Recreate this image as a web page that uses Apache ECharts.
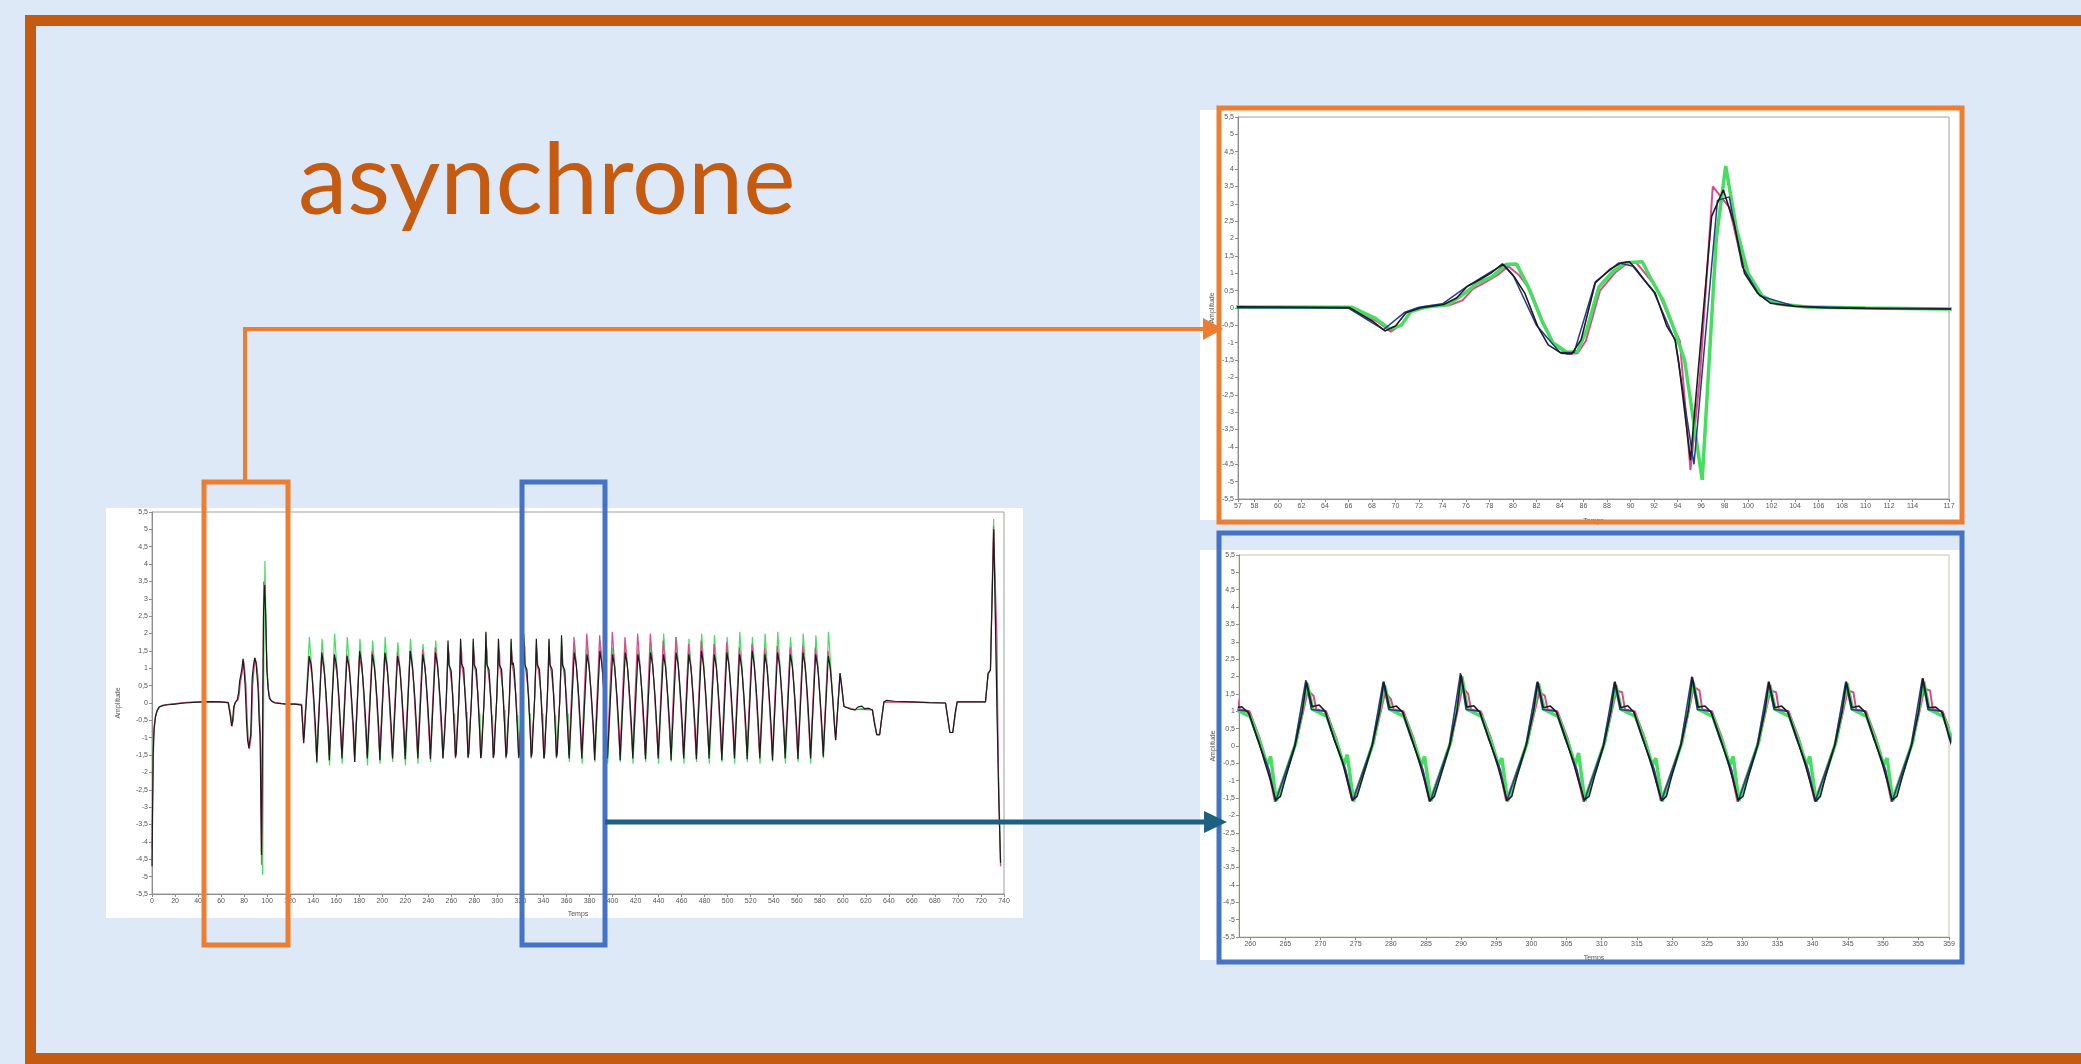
<!DOCTYPE html>
<html lang="fr">
<head>
<meta charset="UTF-8">
<title>asynchrone</title>
<script src="https://cdn.jsdelivr.net/npm/echarts@6.0.0/dist/echarts.min.js"></script>
<style>
  html, body { margin: 0; padding: 0; background: #dde9f6; }
  #main { width: 2081px; height: 1064px; }
</style>
</head>
<body>
<div id="main"></div>
<script type="text/javascript">
// ---- tick labels ----
var zoomAPeakTicks = [56.6, 58, 60, 62, 64, 66, 68, 70, 72, 74, 76, 78, 80, 82, 84, 86, 88, 90,
  92, 94, 96, 98, 100, 102, 104, 106, 108, 110, 112, 114, 117.1];
var zoomBTicks = [258.4, 260, 265, 270, 275, 280, 285, 290, 295, 300, 305, 310, 315, 320, 325,
  330, 335, 340, 345, 350, 355, 359.4];

// ---- black trace (temps, amplitude) ----
var blackStart = [[0,-4.7],[0.5,-3.2],[1,-1.5],[1.8,-0.75],[3,-0.4],[4.5,-0.22],[6,-0.12],[9,-0.07],[14,-0.05],[20,-0.03],
  [28,0],[36,0.02],[44,0.03],[52,0.04],[60,0.03],[66.1,0.01],[68.1,-0.39],[69.1,-0.66],[70,-0.52],[70.9,-0.14],[72.1,0],
  [74.1,0.1],[75.2,0.29],[76.1,0.62],[77.2,0.82],[78.1,1],[79.1,1.27],[80.1,0.9],[81,0.43],[82.1,-0.53],[83,-1.06],
  [84.1,-1.3],[85,-1.32],[85.8,-0.91],[87,0.72],[88.2,1.1],[89.2,1.3],[89.9,1.33],[90.4,1.15],[91.2,0.8],[92.1,0.43],
  [93.1,-0.53],[93.8,-0.91],[94.1,-1.55],[95.1,-4.38],[96.9,2.64],[97.9,3.4],[98.8,2.45],[99.7,1],[100.8,0.43],
  [101.9,0.14],[103.9,0.05],[106.8,0],[112,-0.02],[117,-0.03],[124,-0.03],[129.8,-0.06],[131.8,-1.16]];
var blackOscA = [[136.5,1.35],[138.3,1.1],[140.5,0.15],[142,-0.7],[143.1,-1.7],
  [147.5,1.45],[149.3,1.05],[151.5,0.1],[153,-0.7],[154,-1.65],
  [158.4,1.4],[160.2,1.1],[162.4,0.15],[163.9,-0.75],[165,-1.6],
  [169.4,1.35],[171.2,1.05],[173.4,0.1],[174.9,-0.7],[176,-1.7],
  [180.4,1.5],[182.2,1.1],[184.4,0.15],[185.9,-0.7],[187,-1.6],
  [191.4,1.4],[193.2,1.05],[195.4,0.12],[196.9,-0.72],[197.9,-1.65],
  [202.3,1.45],[204.1,1.1],[206.3,0.15],[207.8,-0.7],[208.9,-1.6],
  [213.3,1.35],[215.1,1.05],[217.3,0.1],[218.8,-0.7],[219.9,-1.62],
  [224.3,1.5],[226.1,1.1],[228.3,0.15],[229.8,-0.72],[230.9,-1.6],
  [235.2,1.4],[237,1.05],[239.2,0.12],[240.7,-0.7],[241.8,-1.62],
  [246.2,1.45],[248,1.1],[250.2,0.15],[251.7,-0.7],[252.7,-1.6]];
var blackOscZoom = [[254.1,-0.93],[255.5,0.03],[256.5,0.99],[257.1,1.8],[257.8,1.1],[258.8,1.13],[259.8,0.94],[261.2,0.12],[262.2,-0.55],[262.9,-1.0],[263.6,-1.56],
  [264.3,-1.45],[265,-0.93],[266.4,0.03],[267.4,0.99],[268,1.85],[268.8,1.13],[269.8,1.18],[270.7,0.99],[271.9,0.22],[273.1,-0.45],[273.8,-1.0],[274.5,-1.56],
  [275.2,-1.45],[276,-0.9],[277.4,0.05],[278.4,1],[279,1.85],[279.8,1.1],[280.8,1.15],[281.7,0.97],[283,0.2],[284.1,-0.5],[284.8,-1.0],[285.5,-1.58],
  [286.2,-1.45],[287,-0.92],[288.4,0.03],[289.4,1],[290,2.05],[290.8,1.12],[291.8,1.16],[292.7,0.96],[294,0.18],[295.1,-0.5],[295.8,-1.0],[296.5,-1.57],
  [297.2,-1.45],[297.9,-0.9],[299.3,0.05],[300.3,1],[300.9,1.85],[301.7,1.1],[302.7,1.15],[303.6,0.97],[304.9,0.2],[306,-0.5],[306.7,-1.0],[307.5,-1.55],
  [308.2,-1.45],[308.9,-0.92],[310.3,0.03],[311.3,1],[311.9,1.85],[312.7,1.1],[313.7,1.16],[314.6,0.97],[315.9,0.18],[317,-0.5],[317.7,-1.0],[318.5,-1.57],
  [319.2,-1.45],[319.9,-0.9],[321.3,0.05],[322.3,1],[322.9,1.98],[323.7,1.12],[324.7,1.15],[325.6,0.96],[326.9,0.2],[328,-0.5],[328.7,-1.0],[329.4,-1.55],
  [330.1,-1.45],[330.8,-0.92],[332.2,0.03],[333.2,1],[333.8,1.85],[334.6,1.1],[335.6,1.15],[336.5,0.97],[337.8,0.2],[338.9,-0.5],[339.6,-1.0],[340.4,-1.6],
  [341.1,-1.45],[341.8,-0.9],[343.2,0.05],[344.2,1],[344.8,1.85],[345.6,1.1],[346.6,1.15],[347.5,0.97],[348.8,0.18],[349.9,-0.5],[350.6,-1.0],[351.3,-1.55],
  [352,-1.45],[352.7,-0.92],[354.1,0.03],[355.1,1],[355.7,1.95],[356.5,1.1],[357.5,1.12],[358.5,0.95],[359.4,0.25],[360.6,-0.5],[361.4,-1.0],[362.3,-1.6]];
var blackOscB = [[366.7,1.45],[368.5,1.1],[370.7,0.15],[372.2,-0.7],[373.3,-1.6],
  [377.8,1.4],[379.6,1.05],[381.8,0.12],[383.3,-0.7],[384.4,-1.65],
  [389,1.5],[390.8,1.1],[393,0.15],[394.5,-0.72],[395.6,-1.6],
  [400,1.4],[401.8,1.05],[404,0.1],[405.5,-0.7],[406.6,-1.65],
  [411,1.45],[412.8,1.1],[415,0.15],[416.5,-0.7],[417.6,-1.6],
  [422,1.4],[423.8,1.05],[426,0.12],[427.5,-0.7],[428.6,-1.62],
  [433,1.45],[434.8,1.1],[437,0.15],[438.5,-0.72],[439.6,-1.6],
  [444.2,1.4],[446,1.05],[448.2,0.1],[449.7,-0.7],[450.8,-1.65],
  [455.2,1.45],[457,1.1],[459.2,0.15],[460.7,-0.7],[461.8,-1.6],
  [466.2,1.4],[468,1.05],[470.2,0.12],[471.7,-0.7],[472.8,-1.62],
  [477.2,1.5],[479,1.1],[481.2,0.15],[482.7,-0.72],[483.8,-1.6],
  [488.3,1.4],[490.1,1.05],[492.3,0.1],[493.8,-0.7],[494.9,-1.65],
  [499.3,1.45],[501.1,1.1],[503.3,0.15],[504.8,-0.7],[505.9,-1.6],
  [510.3,1.4],[512.1,1.05],[514.3,0.12],[515.8,-0.7],[516.9,-1.62],
  [521.3,1.5],[523.1,1.1],[525.3,0.15],[526.8,-0.72],[527.9,-1.6],
  [532.3,1.4],[534.1,1.05],[536.3,0.1],[537.8,-0.7],[538.9,-1.65],
  [543.3,1.45],[545.1,1.1],[547.3,0.15],[548.8,-0.7],[549.9,-1.6],
  [554.4,1.4],[556.2,1.05],[558.4,0.12],[559.9,-0.7],[561,-1.62],
  [565.4,1.45],[567.2,1.1],[569.4,0.15],[570.9,-0.72],[572,-1.6],
  [576.4,1.4],[578.2,1.05],[580.4,0.1],[581.9,-0.7],[583,-1.55],
  [587.4,1.35],[589.2,1],[591.3,0.1],[592.6,-0.6],[593.8,-1.07]];
var blackEnd = [[597.6,0.86],[599,0.5],[601,-0.1],[604.9,-0.15],[607,-0.18],[610.7,-0.2],[613,-0.12],[616.5,-0.09],
  [619,-0.17],[622.3,-0.15],[625.7,-0.2],[627.5,-0.6],[629.5,-0.92],[632,-0.92],[633.5,-0.5],[635.7,0.03],[638,0.08],
  [645,0.05],[660,0.03],[675,0.01],[689.2,0],[691,-0.4],[693,-0.85],[695.5,-0.85],[697.5,-0.3],[699.3,0.03],[710,0.03],
  [723.9,0.03],[726.2,0.86],[728.2,0.95],[731.1,5],[734,-0.39],[735.5,-2.8],[737,-4.6]];

// ---- green trace ----
var greenStart = [[0,-3.6],[0.6,-2.2],[1.2,-1],[2,-0.6],[3.5,-0.3],[6,-0.12],[12,-0.05],[30,0.01],[50,0.04],[66.3,0.02],
  [68.3,-0.3],[69.5,-0.6],[70.5,-0.5],[71.3,-0.1],[72.5,0.02],[74.5,0.1],[75.8,0.4],[77,0.72],[78.2,0.9],[79.4,1.25],
  [80.3,1.27],[81.3,0.6],[82.5,-0.4],[83.4,-1],[84.6,-1.28],[85.5,-1.25],[86.3,-0.6],[87.3,0.6],[88.5,1.05],[89.6,1.3],
  [91,1.33],[91.8,0.8],[92.8,0.2],[93.7,-0.6],[94.6,-1.5],[96.1,-4.95],[97.3,2],[98.1,4.09],[99,2.3],[100,1],
  [101.2,0.35],[102.5,0.12],[105,0.03],[110,0],[117,-0.03],[125,-0.02],[130,-0.05],[132,-1]];
var greenOscA = [[136.7,1.9],[139.7,0.55],[143.3,-1.75],[147.7,1.85],[150.7,0.55],[154.2,-1.8],[158.6,2],[161.6,0.5],
  [165.2,-1.75],[169.6,1.9],[172.6,0.55],[176.2,-1.7],[180.6,1.85],[183.6,0.5],[187.2,-1.8],[191.6,1.8],[194.6,0.55],
  [198.1,-1.75],[202.5,1.9],[205.5,0.5],[209.1,-1.7],[213.5,1.75],[216.5,0.55],[220.1,-1.8],[224.5,1.85],[227.5,0.5],
  [231,-1.75],[235.4,1.7],[238.4,0.55],[242,-1.7],[246.4,1.8],[249.4,0.5]];
var greenOscZoom = [[252.8,-1.6],[255.6,0.1],[257.2,1.7],[258,1.05],[260,0.85],[261.4,0.1],[262.4,-0.55],[262.9,-0.3],
  [263.7,-1.58],[266.5,0.1],[268.1,1.8],[268.9,1.05],[270.9,0.85],[272.3,0.1],[273.3,-0.55],[273.8,-0.25],
  [274.7,-1.6],[277.5,0.1],[279.1,1.75],[279.9,1.05],[281.9,0.85],[283.3,0.1],[284.3,-0.55],[284.8,-0.3],
  [285.7,-1.58],[288.5,0.1],[290.1,2],[290.9,1.05],[292.9,0.85],[294.3,0.1],[295.3,-0.55],[295.8,-0.35],
  [296.6,-1.6],[299.4,0.1],[301,1.8],[301.8,1.05],[303.8,0.85],[305.2,0.1],[306.2,-0.55],[306.7,-0.2],
  [307.6,-1.58],[310.4,0.1],[312,1.75],[312.8,1.05],[314.8,0.85],[316.2,0.1],[317.2,-0.55],[317.7,-0.35],
  [318.6,-1.6],[321.4,0.1],[323,1.85],[323.8,1.05],[325.8,0.85],[327.2,0.1],[328.2,-0.55],[328.7,-0.3],
  [329.5,-1.58],[332.3,0.1],[333.9,1.75],[334.7,1.05],[336.7,0.85],[338.1,0.1],[339.1,-0.55],[339.6,-0.3],
  [340.5,-1.6],[343.3,0.1],[344.9,1.8],[345.7,1.05],[347.7,0.85],[349.1,0.1],[350.1,-0.55],[350.6,-0.35],
  [351.4,-1.58],[354.2,0.1],[355.8,1.85],[356.6,1.05],[358.6,0.85],[360,0.1],[361,-0.55],[361.5,-0.3]];
var greenOscB = [[362.5,-1.7],[366.9,1.7],[369.9,0.55],[373.6,-1.75],[378,1.75],[381,0.5],[384.8,-1.7],[389.2,1.8],[392.2,0.55],
  [395.8,-1.75],[400.2,1.6],[403.2,0.5],[406.8,-1.7],[411.2,1.7],[414.2,0.55],[417.8,-1.75],[422.2,1.6],[425.2,0.5],
  [428.8,-1.7],[433.2,1.75],[436.2,0.55],[440,-1.75],[444.4,2],[447.4,0.5],[451,-1.7],[455.4,1.9],[458.4,0.55],
  [462,-1.75],[466.4,1.85],[469.4,0.5],[473,-1.7],[477.4,2],[480.4,0.55],[484.1,-1.75],[488.5,1.95],[491.5,0.5],
  [495.1,-1.7],[499.5,1.9],[502.5,0.55],[506.1,-1.75],[510.5,2.05],[513.5,0.5],[517.1,-1.7],[521.5,1.9],[524.5,0.55],
  [528.1,-1.75],[532.5,2],[535.5,0.5],[539.1,-1.7],[543.5,2.05],[546.5,0.55],[550.2,-1.75],[554.6,1.9],[557.6,0.5],
  [561.2,-1.7],[565.6,2],[568.6,0.55],[572.2,-1.75],[576.6,1.95],[579.6,0.5],[583.2,-1.6],[587.6,2.05],[590.6,0.5]];
var greenEnd = [[593.9,-1],[597.7,0.85],[601,-0.1],[610,-0.2],[620,-0.15],[625.7,-0.2],[629.5,-0.9],[632,-0.9],[635.7,0.03],
  [660,0.03],[689.2,0],[693,-0.85],[695.5,-0.85],[699.3,0.03],[723.9,0.03],[726.2,0.8],[728.2,0.95],[731,5.3],
  [734.2,-0.5],[737.2,-4.7]];

// ---- pink trace ----
var pinkStart = [[0,-4.2],[0.7,-2.5],[1.5,-1],[2.5,-0.5],[4,-0.25],[7,-0.1],[14,-0.04],[30,0.02],[50,0.04],[66.4,0.01],
  [68.6,-0.42],[69.6,-0.68],[70.6,-0.45],[71.4,-0.08],[72.6,0.03],[74.6,0.08],[75.7,0.22],[76.6,0.55],[77.7,0.75],
  [78.7,0.95],[79.6,1.2],[80.5,0.95],[81.5,0.5],[82.6,-0.45],[83.5,-1.05],[84.6,-1.32],[85.5,-1.3],[86.2,-0.95],
  [87.4,0.5],[88.7,1.02],[89.7,1.28],[90.5,1.3],[91,1.1],[92.2,0.6],[93.3,-0.3],[94.2,-0.95],[95.1,-4.66],[95.9,-2],
  [97,3.5],[98.4,2.9],[99.3,1.6],[100.3,0.7],[101.5,0.25],[103,0.08],[106,0.02],[112,-0.01],[117,-0.03],[125,-0.03],
  [130,-0.04],[131.5,-1.1]];
var pinkOscA = [[136.3,1.3],[139,0.8],[142.9,-1.5],[147.3,1.35],[150,0.8],[153.8,-1.5],[158.2,1.3],[160.9,0.8],
  [164.8,-1.45],[169.2,1.4],[171.9,0.8],[175.8,-1.5],[180.2,1.35],[182.9,0.8],[186.8,-1.5],[191.2,1.5],[193.9,0.8],
  [197.7,-1.45],[202.1,1.4],[204.8,0.8],[208.7,-1.5],[213.1,1.45],[215.8,0.8],[219.7,-1.5],[224.1,1.5],[226.8,0.8],
  [230.6,-1.45],[235,1.55],[237.7,0.8],[241.6,-1.5],[246,1.6],[248.7,0.8]];
var pinkOscZoom = [[252.6,-1.55],[255.7,0.15],[257.3,1.6],[258.1,1.4],[258.5,1.05],[259.9,1],[261.3,0.25],[262.5,-0.6],
  [263.5,-1.6],[266.6,0.15],[268.2,1.6],[269,1.45],[269.4,1.05],[270.8,1],[272.2,0.25],[273.4,-0.6],
  [274.5,-1.58],[277.6,0.15],[279.2,1.55],[280,1.35],[280.4,1.05],[281.8,1],[283.2,0.25],[284.4,-0.6],
  [285.5,-1.6],[288.6,0.15],[290.2,1.7],[291,1.5],[291.4,1.05],[292.8,1],[294.2,0.25],[295.4,-0.6],
  [296.4,-1.58],[299.5,0.15],[301.1,1.55],[301.9,1.45],[302.3,1.05],[303.7,1],[305.1,0.25],[306.3,-0.6],
  [307.4,-1.6],[310.5,0.15],[312.1,1.6],[312.9,1.55],[313.3,1.05],[314.7,1],[316.1,0.25],[317.3,-0.6],
  [318.4,-1.58],[321.5,0.15],[323.1,1.7],[323.9,1.6],[324.3,1.05],[325.7,1],[327.1,0.25],[328.3,-0.6],
  [329.3,-1.6],[332.4,0.15],[334,1.6],[334.8,1.55],[335.2,1.05],[336.6,1],[338,0.25],[339.2,-0.6],
  [340.3,-1.58],[343.4,0.15],[345,1.6],[345.8,1.55],[346.2,1.05],[347.6,1],[349,0.25],[350.2,-0.6],
  [351.2,-1.6],[354.3,0.15],[355.9,1.65],[356.7,1.6],[357.1,1.05],[358.5,1],[359.9,0.25],[361.1,-0.6]];
var pinkOscB = [[362.1,-1.5],[366.5,1.9],[369.2,0.8],[373.2,-1.5],[377.6,2],[380.3,0.8],[384.4,-1.45],[388.8,1.95],[391.5,0.8],
  [395.4,-1.5],[399.8,2.05],[402.5,0.8],[406.4,-1.5],[410.8,1.9],[413.5,0.8],[417.4,-1.45],[421.8,2],[424.5,0.8],
  [428.4,-1.5],[432.8,2],[435.5,0.8],[439.6,-1.5],[444,1.8],[446.7,0.8],[450.6,-1.45],[455,1.9],[457.7,0.8],
  [461.6,-1.5],[466,1.7],[468.7,0.8],[472.6,-1.5],[477,1.8],[479.7,0.8],[483.7,-1.45],[488.1,1.7],[490.8,0.8],
  [494.7,-1.5],[499.1,1.75],[501.8,0.8],[505.7,-1.5],[510.1,1.6],[512.8,0.8],[516.7,-1.45],[521.1,1.7],[523.8,0.8],
  [527.7,-1.5],[532.1,1.6],[534.8,0.8],[538.7,-1.5],[543.1,1.65],[545.8,0.8],[549.8,-1.45],[554.2,1.6],[556.9,0.8],
  [560.8,-1.5],[565.2,1.65],[567.9,0.8],[571.8,-1.5],[576.2,1.6],[578.9,0.8],[582.8,-1.45],[587.2,1.5],[589.9,0.7]];
var pinkEnd = [[593.7,-1.05],[597.5,0.85],[601,-0.1],[610,-0.18],[625.7,-0.2],[629.5,-0.9],[632,-0.9],[635.7,0.03],
  [689.2,0],[693,-0.85],[695.5,-0.85],[699.3,0.03],[723.9,0.03],[726.2,0.85],[728.3,0.95],[730.9,5.1],[733.8,2],
  [735.3,-2.5],[737,-4.7]];

// ---- navy trace (zooms only) ----
var navyPeak = [[56,0.01],[66,0],[68,-0.42],[69,-0.62],[70.8,-0.12],[72,0.02],[74,0.12],[76,0.6],[78,1.02],[79.2,1.25],
  [80,0.95],[82,-0.5],[84,-1.28],[85.2,-1.28],[87,0.75],[89,1.3],[90.2,1.2],[92,0.45],[93.8,-0.95],[95.4,-4.5],
  [97.4,3.1],[98.4,3.2],[99.5,1.2],[101,0.35],[104,0.05],[110,0],[117.5,-0.02]];
var navyOsc = [[252.7,-1.55],[255.4,0],[257,1.8],[257.8,1.05],[259.7,1],[261,0.2],[262.7,-0.7],
  [263.6,-1.6],[266.3,0],[267.9,1.9],[268.7,1.05],[270.6,1],[271.9,0.2],[273.6,-0.7],
  [274.6,-1.58],[277.3,0],[278.9,1.85],[279.7,1.05],[281.6,1],[282.9,0.2],[284.6,-0.7],
  [285.6,-1.6],[288.3,0],[289.9,2.1],[290.7,1.05],[292.6,1],[293.9,0.2],[295.6,-0.7],
  [296.5,-1.58],[299.2,0],[300.8,1.85],[301.6,1.05],[303.5,1],[304.8,0.2],[306.5,-0.7],
  [307.5,-1.6],[310.2,0],[311.8,1.85],[312.6,1.05],[314.5,1],[315.8,0.2],[317.5,-0.7],
  [318.5,-1.58],[321.2,0],[322.8,2],[323.6,1.05],[325.5,1],[326.8,0.2],[328.5,-0.7],
  [329.4,-1.6],[332.1,0],[333.7,1.85],[334.5,1.05],[336.4,1],[337.7,0.2],[339.4,-0.7],
  [340.4,-1.58],[343.1,0],[344.7,1.85],[345.5,1.05],[347.4,1],[348.7,0.2],[350.4,-0.7],
  [351.3,-1.6],[354,0],[355.6,1.95],[356.4,1.05],[358.3,1],[359.6,0.2],[361.3,-0.7]];

var blackTrace = blackStart.concat(blackOscA, blackOscZoom, blackOscB, blackEnd);
var greenTrace = greenStart.concat(greenOscA, greenOscZoom, greenOscB, greenEnd);
var pinkTrace = pinkStart.concat(pinkOscA, pinkOscZoom, pinkOscB, pinkEnd);

var ORANGE = '#ed7d31', BLUE = '#4472c4', FRAME = '#c55a11';

function yAxisFor(i, gap) {
    return {
        type: 'value', gridIndex: i, min: -5.5, max: 5.5, interval: 0.5,
        name: 'Amplitude', nameLocation: 'middle', nameGap: gap, nameRotate: 90,
        nameTextStyle: { fontSize: 7, color: '#555' },
        axisLine: { show: true, lineStyle: { color: '#8c8c8c', width: 1 } },
        axisTick: { show: true, length: 3, lineStyle: { color: '#8c8c8c' } },
        axisLabel: { fontSize: 7, color: '#555', margin: 4,
            formatter: function (v) { return String(v).replace('.', ','); } },
        splitLine: { show: false }
    };
}

function xAxisFor(i, extra) {
    var ax = {
        type: 'value', gridIndex: i,
        name: 'Temps', nameLocation: 'middle', nameGap: 17,
        nameTextStyle: { fontSize: 7, color: '#555' },
        axisLine: { show: true, onZero: false, lineStyle: { color: '#8c8c8c', width: 1 } },
        axisTick: { show: true, length: 3, lineStyle: { color: '#8c8c8c' } },
        axisLabel: { fontSize: 7, color: '#555', margin: 4 },
        splitLine: { show: false }
    };
    for (var k in extra) ax[k] = extra[k];
    return ax;
}

function trace(data, i, color, width, z) {
    return {
        type: 'line', data: data, xAxisIndex: i, yAxisIndex: i,
        symbol: 'none', showSymbol: false, silent: true, clip: true,
        lineStyle: { color: color, width: width }, itemStyle: { color: color }, z: z
    };
}

function roundLabel(v) { return String(Math.round(v)); }

var myChart = echarts.init(document.getElementById('main'));

var option = {
    backgroundColor: '#dde9f6',
    animation: false,
    grid: [
        { left: 152, top: 512, width: 852, height: 382, show: true, borderColor: '#a0a0a0', borderWidth: 1 },
        { left: 1238, top: 117, width: 711, height: 382, show: true, borderColor: '#a0a0a0', borderWidth: 1 },
        { left: 1239, top: 555, width: 710, height: 382, show: true, borderColor: '#c8c4b4', borderWidth: 1 }
    ],
    xAxis: [
        xAxisFor(0, { min: 0, max: 740, interval: 20 }),
        xAxisFor(1, { min: 56.6, max: 117.1, nameGap: 19,
            axisTick: { show: true, length: 3, lineStyle: { color: '#8c8c8c' }, customValues: zoomAPeakTicks },
            axisLabel: { fontSize: 7, color: '#555', margin: 4, customValues: zoomAPeakTicks, formatter: roundLabel } }),
        xAxisFor(2, { min: 258.4, max: 359.4, nameGap: 18,
            axisTick: { show: true, length: 3, lineStyle: { color: '#8c8c8c' }, customValues: zoomBTicks },
            axisLabel: { fontSize: 7, color: '#555', margin: 4, customValues: zoomBTicks, formatter: roundLabel } })
    ],
    yAxis: [yAxisFor(0, 30), yAxisFor(1, 22), yAxisFor(2, 22)],
    series: [
        trace(greenTrace, 0, '#45de5f', 1.2, 3),
        trace(pinkTrace, 0, '#e0478d', 1.2, 4),
        trace(blackTrace, 0, '#1c1c1c', 1.2, 5),

        trace(pinkTrace, 1, '#e0478d', 2, 3),
        trace(greenTrace, 1, '#45de5f', 3.5, 4),
        trace(navyPeak, 1, '#283a8f', 1.5, 5),
        trace(blackTrace, 1, '#1c1c1c', 1.6, 6),

        trace(pinkTrace, 2, '#e0478d', 2, 3),
        trace(greenTrace, 2, '#45de5f', 3.5, 4),
        trace(navyOsc, 2, '#283a8f', 1.5, 5),
        trace(blackTrace, 2, '#1c1c1c', 1.6, 6)
    ],
    graphic: [
        // white panels behind the three charts
        { type: 'rect', z: -1, shape: { x: 106, y: 508, width: 917, height: 410 }, style: { fill: '#ffffff' } },
        { type: 'rect', z: -1, shape: { x: 1200, y: 110, width: 762, height: 410 }, style: { fill: '#ffffff' } },
        { type: 'rect', z: -1, shape: { x: 1200, y: 550, width: 762, height: 410 }, style: { fill: '#ffffff' } },
        // slide frame
        { type: 'rect', z: 50, shape: { x: 25, y: 15, width: 2056, height: 11 }, style: { fill: FRAME } },
        { type: 'rect', z: 50, shape: { x: 25, y: 15, width: 11, height: 1049 }, style: { fill: FRAME } },
        { type: 'rect', z: 50, shape: { x: 25, y: 1053, width: 2056, height: 11 }, style: { fill: FRAME } },
        // title
        { type: 'text', z: 50, x: 298, y: 133,
          style: { text: 'asynchrone', font: 'normal 99px Lato', fill: FRAME, verticalAlign: 'top' } },
        // selection boxes on the full record
        { type: 'rect', z: 60, shape: { x: 204, y: 482, width: 84, height: 463 }, style: { fill: 'none', stroke: ORANGE, lineWidth: 5 } },
        { type: 'rect', z: 60, shape: { x: 522, y: 482, width: 83, height: 463 }, style: { fill: 'none', stroke: BLUE, lineWidth: 5 } },
        // boxes around the zooms
        { type: 'rect', z: 60, shape: { x: 1219, y: 108, width: 743, height: 414 }, style: { fill: 'none', stroke: ORANGE, lineWidth: 5 } },
        { type: 'rect', z: 60, shape: { x: 1219, y: 533, width: 743, height: 429 }, style: { fill: 'none', stroke: BLUE, lineWidth: 5 } },
        // orange connector
        { type: 'polyline', z: 61, shape: { points: [[245, 482], [245, 329], [1206, 329]] }, style: { fill: 'none', stroke: ORANGE, lineWidth: 4 } },
        { type: 'polygon', z: 61, shape: { points: [[1203, 318], [1223, 329], [1203, 340]] }, style: { fill: ORANGE } },
        // dark arrow
        { type: 'line', z: 61, shape: { x1: 605, y1: 822, x2: 1208, y2: 822 }, style: { stroke: '#1f5f80', lineWidth: 5 } },
        { type: 'polygon', z: 61, shape: { points: [[1204, 811], [1227, 822], [1204, 833]] }, style: { fill: '#1f5f80' } }
    ]
};

myChart.setOption(option);
</script>
</body>
</html>
